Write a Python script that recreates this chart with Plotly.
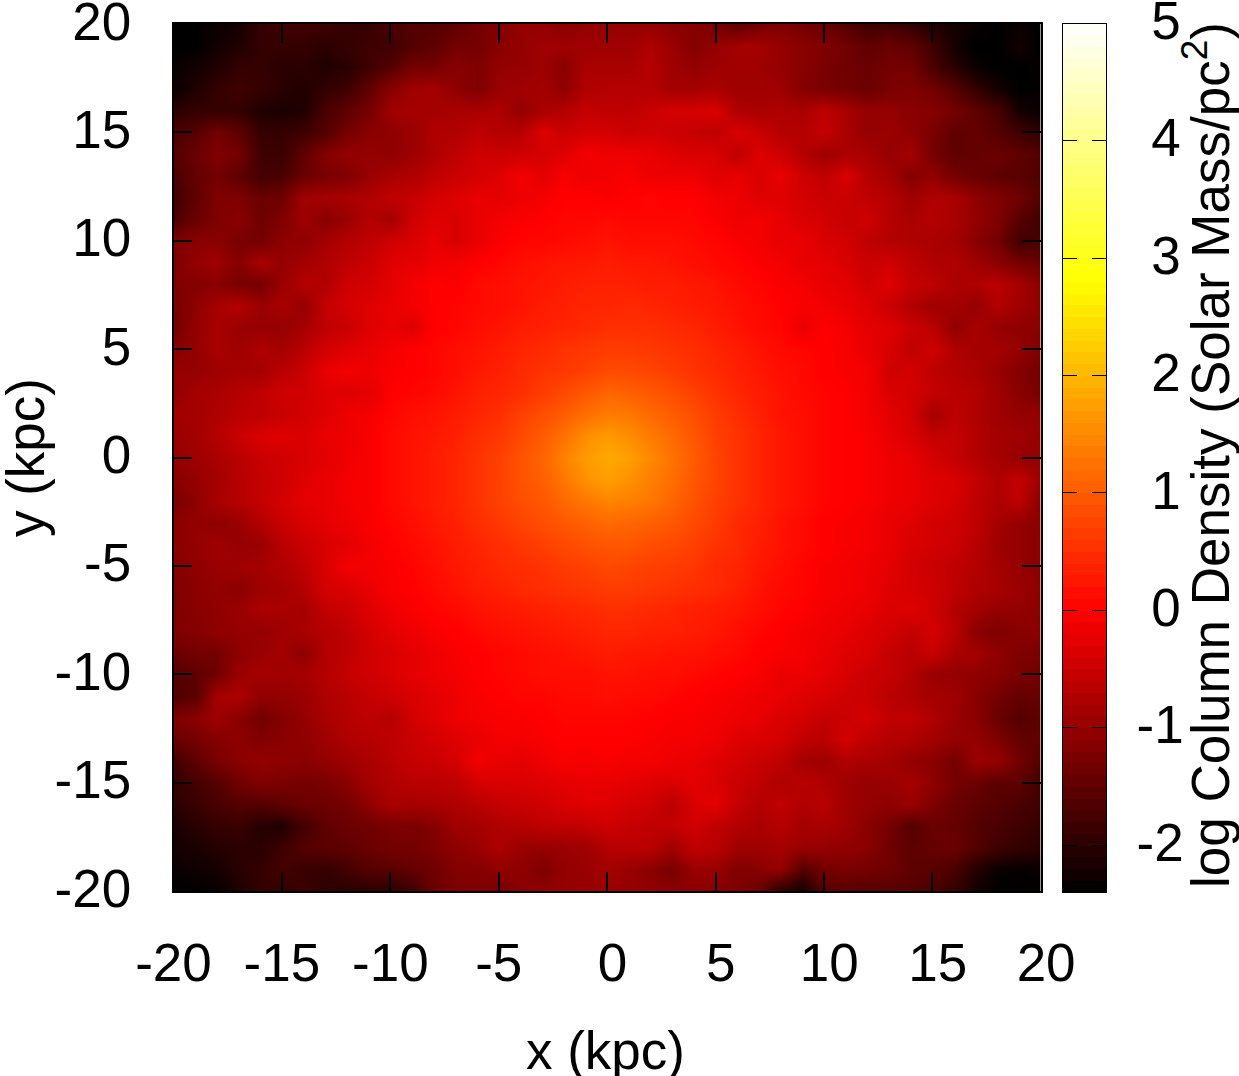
import plotly.graph_objects as go

x_kpc = [-20,-19,-18,-17,-16,-15,-14,-13,-12,-11,-10,-9,-8,-7,-6,-5,-4,-3,-2,-1,0,1,2,3,4,5,6,7,8,9,10,11,12,13,14,15,16,17,18,19,20]
y_kpc = [20,19,18,17,16,15,14,13,12,11,10,9,8,7,6,5,4,3,2,1,0,-1,-2,-3,-4,-5,-6,-7,-8,-9,-10,-11,-12,-13,-14,-15,-16,-17,-18,-19,-20]

log_density = [
 [-2.4,-2.4,-2.3,-2.2,-1.9,-1.8,-1.8,-1.8,-1.9,-1.9, -1.7,-1.6,-1.6,-1.5,-1.3,-1.2,-1.0,-1.0,-1.1,-1.0, -1.0,-1.0,-1.0,-1.1,-1.1,-1.3,-1.5,-1.3,-1.2,-1.3, -1.4,-1.6,-1.8,-1.8,-1.9,-2.1,-2.2,-2.3,-2.4,-2.3,-2.4],
 [-2.4,-2.4,-2.2,-2.1,-1.9,-1.9,-1.9,-2.0,-1.9,-1.8, -1.8,-1.6,-1.5,-1.3,-1.3,-1.1,-1.0,-0.9,-0.9,-0.9, -0.9,-0.9,-0.75,-0.95,-1.15,-1.0,-0.85,-0.85,-1.0,-1.1, -1.2,-1.3,-1.5,-1.4,-1.5,-1.8,-2.2,-2.4,-2.4,-2.2,-2.4],
 [-2.3,-2.2,-2.1,-1.9,-1.9,-2.0,-2.0,-2.1,-2.0,-1.8, -1.6,-1.3,-1.3,-1.1,-1.2,-1.0,-1.0,-0.9,-1.1,-0.8, -0.8,-0.8,-0.7,-0.9,-1.0,-0.9,-0.9,-0.9,-1.0,-1.1, -1.25,-1.35,-1.4,-1.3,-1.3,-1.7,-2.0,-2.3,-2.4,-2.4,-2.35],
 [-2.3,-2.1,-1.9,-1.8,-1.9,-2.0,-2.1,-1.9,-1.8,-1.5, -1.1,-0.9,-0.85,-1.05,-1.2,-0.95,-0.9,-0.85,-1.05,-0.75, -0.7,-0.7,-0.7,-0.85,-0.85,-0.8,-0.9,-0.9,-0.9,-1.15, -1.25,-1.3,-1.4,-1.25,-1.2,-1.3,-1.6,-1.9,-2.2,-2.4,-2.35],
 [-2.0,-1.9,-1.9,-1.9,-2.1,-2.15,-2.1,-1.7,-1.5,-1.3, -0.9,-0.85,-0.85,-0.8,-0.8,-0.75,-1.0,-0.8,-0.7,-0.55, -0.6,-0.6,-0.5,-0.4,-0.4,-0.35,-0.75,-0.8,-0.75,-0.8, -0.6,-0.8,-1.0,-1.0,-1.1,-1.15,-1.3,-1.5,-1.7,-2.2,-2.3],
 [-1.7,-1.6,-1.3,-1.5,-1.9,-1.9,-1.8,-1.6,-1.3,-1.1, -1.05,-0.95,-0.75,-0.75,-0.6,-0.7,-0.7,-0.3,-0.5,-0.4, -0.4,-0.5,-0.45,-0.5,-0.55,-0.6,-0.35,-0.5,-0.7,-0.7, -0.55,-0.8,-1.0,-0.95,-1.05,-1.25,-1.5,-1.45,-1.6,-1.8,-1.95],
 [-1.6,-1.4,-1.2,-1.3,-1.8,-1.85,-1.5,-1.15,-1.0,-1.0, -1.05,-0.9,-0.75,-0.6,-0.45,-0.5,-0.45,-0.4,-0.3,-0.1, -0.15,-0.15,-0.2,-0.3,-0.35,-0.35,-0.6,-0.3,-0.45,-0.7, -0.9,-0.8,-0.8,-1.0,-0.85,-1.3,-1.5,-1.45,-1.4,-1.5,-1.6],
 [-1.7,-1.45,-1.3,-1.5,-1.75,-1.7,-1.4,-1.25,-1.2,-0.95, -0.8,-0.75,-0.6,-0.5,-0.4,-0.3,-0.1,-0.25,-0.05,-0.15, -0.1,-0.05,-0.15,-0.15,-0.15,-0.3,-0.2,-0.35,-0.2,-0.45, -0.6,-0.35,-0.7,-0.85,-1.15,-1.0,-1.3,-1.4,-1.5,-1.55,-1.65],
 [-1.8,-1.5,-1.2,-1.2,-1.4,-1.35,-0.9,-0.85,-0.8,-0.75, -0.6,-0.55,-0.4,-0.3,-0.2,-0.25,-0.15,-0.1,0.0,0.0, -0.05,0.0,0.05,0.0,0.0,-0.1,-0.15,-0.3,-0.3,-0.4, -0.5,-0.5,-0.6,-0.7,-0.9,-0.75,-0.8,-1.05,-1.2,-1.35,-1.6],
 [-1.7,-1.4,-1.2,-1.1,-1.35,-1.2,-0.9,-1.1,-0.95,-0.7, -0.85,-0.45,-0.3,-0.35,-0.2,-0.1,-0.05,0.0,0.05,0.05, 0.1,0.05,0.05,0.05,0.05,-0.05,-0.15,-0.1,-0.2,-0.35, -0.4,-0.55,-0.45,-0.7,-0.8,-0.7,-0.8,-1.0,-1.2,-1.55,-1.8],
 [-1.2,-1.1,-1.1,-1.25,-1.3,-1.05,-1.05,-0.85,-0.7,-0.6, -0.45,-0.35,-0.2,-0.35,-0.2,-0.05,0.05,0.05,0.1,0.15, 0.2,0.15,0.15,0.15,0.1,0.05,-0.05,-0.1,-0.2,-0.2, -0.35,-0.4,-0.6,-0.7,-0.75,-0.8,-0.85,-1.1,-1.3,-1.8,-1.7],
 [-1.2,-1.0,-0.9,-1.15,-0.8,-1.0,-0.85,-0.75,-0.6,-0.5, -0.3,-0.25,-0.15,-0.1,0.0,0.05,0.15,0.2,0.25,0.25, 0.3,0.25,0.25,0.2,0.15,0.1,0.05,-0.05,-0.1,-0.2, -0.25,-0.35,-0.5,-0.45,-0.6,-0.75,-0.75,-0.9,-1.1,-1.3,-1.4],
 [-1.2,-1.15,-1.1,-1.25,-1.3,-0.95,-0.7,-0.75,-0.45,-0.4, -0.25,-0.1,0.0,-0.05,0.1,0.15,0.2,0.25,0.3,0.35, 0.35,0.35,0.3,0.3,0.25,0.2,0.1,0.05,-0.05,-0.1, -0.2,-0.25,-0.45,-0.3,-0.55,-0.6,-0.8,-0.75,-0.65,-0.85,-1.1],
 [-1.3,-1.05,-0.85,-0.7,-0.95,-0.8,-1.0,-0.55,-0.4,-0.3, -0.2,-0.1,0.0,0.05,0.1,0.15,0.2,0.3,0.35,0.4, 0.4,0.45,0.4,0.35,0.3,0.25,0.15,0.1,0.0,-0.05, -0.1,-0.2,-0.3,-0.5,-0.7,-0.9,-0.85,-1.0,-0.7,-0.9,-1.05],
 [-1.35,-1.0,-0.8,-0.95,-1.0,-1.0,-0.85,-0.6,-0.5,-0.3, -0.2,-0.3,0.0,0.05,0.15,0.2,0.3,0.35,0.4,0.45, 0.5,0.5,0.5,0.45,0.4,0.3,0.2,0.1,0.05,-0.2, 0.0,-0.1,-0.25,-0.3,-0.5,-0.65,-1.05,-0.8,-1.0,-1.05,-1.1],
 [-1.1,-1.0,-0.8,-0.9,-0.75,-0.85,-0.65,-0.4,-0.3,-0.2, -0.1,0.0,0.05,0.15,0.2,0.3,0.4,0.45,0.55,0.6, 0.65,0.65,0.6,0.55,0.5,0.4,0.3,0.2,0.1,0.05, 0.0,-0.05,-0.2,-0.35,-0.6,-0.45,-0.75,-0.85,-0.85,-1.0,-1.2],
 [-1.0,-1.0,-0.9,-0.85,-0.85,-0.65,-0.5,-0.2,-0.1,-0.15, -0.05,0.0,0.05,0.15,0.25,0.35,0.45,0.55,0.6,0.7, 0.8,0.8,0.75,0.65,0.55,0.45,0.35,0.25,0.15,0.1, 0.0,-0.05,-0.1,-0.45,-0.4,-0.6,-0.7,-0.8,-0.95,-1.15,-1.3],
 [-1.0,-0.85,-0.8,-0.7,-0.6,-0.45,-0.45,-0.3,-0.3,-0.25, 0.0,0.05,0.1,0.2,0.35,0.4,0.5,0.65,0.8,0.95, 1.1,1.05,0.95,0.85,0.7,0.55,0.4,0.3,0.2,0.1, 0.05,0.0,-0.1,-0.35,-0.4,-0.55,-0.65,-0.7,-0.9,-1.1,-1.3],
 [-0.9,-0.85,-0.75,-0.65,-0.6,-0.5,-0.4,-0.3,-0.15,-0.1, 0.05,0.15,0.2,0.3,0.4,0.5,0.7,0.85,1.0,1.2, 1.35,1.3,1.15,1.0,0.85,0.65,0.5,0.35,0.2,0.15, 0.05,0.0,-0.1,-0.25,-0.4,-0.85,-0.6,-0.75,-0.9,-1.0,-1.0],
 [-0.95,-0.85,-0.7,-0.5,-0.35,-0.3,-0.35,-0.2,-0.15,-0.05, 0.1,0.2,0.25,0.35,0.5,0.6,0.8,1.0,1.25,1.55, 1.7,1.55,1.35,1.15,0.95,0.7,0.55,0.4,0.25,0.15, 0.05,0.0,-0.05,-0.2,-0.35,-0.55,-0.55,-0.7,-0.85,-0.9,-1.0],
 [-1.0,-0.9,-0.8,-0.65,-0.5,-0.45,-0.35,-0.25,-0.15,-0.05, 0.1,0.2,0.3,0.4,0.55,0.7,0.9,1.1,1.4,1.7, 1.85,1.75,1.5,1.25,1.0,0.75,0.55,0.4,0.25,0.15, 0.05,0.0,-0.05,-0.15,-0.2,-0.4,-0.55,-0.7,-0.85,-1.0,-1.0],
 [-1.1,-1.0,-0.85,-0.7,-0.55,-0.45,-0.3,-0.2,-0.1,-0.05, 0.1,0.2,0.3,0.4,0.55,0.7,0.9,1.05,1.3,1.6, 1.75,1.6,1.4,1.2,0.95,0.75,0.55,0.4,0.25,0.15, 0.05,0.0,-0.05,-0.15,-0.2,-0.3,-0.35,-0.55,-0.75,-0.55,-0.95],
 [-1.25,-1.05,-0.8,-0.7,-0.55,-0.4,-0.25,-0.2,-0.1,-0.05, 0.1,0.2,0.3,0.4,0.55,0.7,0.85,0.95,1.15,1.3, 1.45,1.4,1.3,1.1,0.9,0.7,0.55,0.4,0.25,0.15, 0.05,0.0,-0.05,-0.15,-0.2,-0.3,-0.4,-0.6,-0.75,-0.6,-1.1],
 [-1.1,-1.0,-1.05,-0.95,-0.7,-0.5,-0.35,-0.25,-0.15,-0.05, 0.05,0.15,0.25,0.35,0.5,0.6,0.75,0.85,0.95,1.05, 1.15,1.1,1.05,0.95,0.8,0.65,0.45,0.35,0.2,0.1, 0.0,-0.05,-0.1,-0.2,-0.3,-0.4,-0.45,-0.6,-0.85,-1.0,-1.1],
 [-1.1,-1.0,-0.9,-1.0,-0.95,-0.65,-0.5,-0.35,-0.25,-0.1, 0.0,0.1,0.2,0.3,0.4,0.5,0.6,0.7,0.8,0.9, 0.95,0.95,0.85,0.8,0.7,0.55,0.45,0.3,0.2,0.1, 0.0,-0.05,-0.1,-0.2,-0.35,-0.4,-0.5,-0.65,-0.9,-1.0,-1.1],
 [-1.15,-1.05,-0.95,-0.9,-0.85,-0.75,-0.6,-0.35,-0.1,-0.1, -0.05,0.05,0.15,0.25,0.35,0.45,0.5,0.55,0.65,0.7, 0.8,0.75,0.7,0.65,0.6,0.45,0.4,0.25,0.15,0.05, -0.05,-0.1,-0.15,-0.25,-0.4,-0.5,-0.6,-0.7,-0.85,-1.0,-1.1],
 [-1.2,-1.1,-1.0,-1.1,-0.9,-0.85,-0.7,-0.4,-0.35,-0.2, -0.05,0.0,0.1,0.2,0.3,0.35,0.45,0.5,0.55,0.6, 0.65,0.65,0.6,0.55,0.5,0.45,0.35,0.2,0.1,0.05, -0.05,-0.1,-0.15,-0.3,-0.4,-0.45,-0.6,-0.75,-0.8,-0.95,-1.05],
 [-1.2,-1.1,-1.05,-0.95,-0.8,-0.8,-0.85,-0.55,-0.5,-0.3, -0.15,-0.05,0.05,0.1,0.2,0.25,0.3,0.35,0.4,0.45, 0.5,0.5,0.45,0.4,0.35,0.3,0.25,0.15,0.05,0.0, -0.1,-0.15,-0.2,-0.35,-0.3,-0.45,-0.7,-0.85,-1.0,-1.0,-1.1],
 [-1.2,-1.15,-1.05,-1.0,-1.0,-0.9,-0.8,-0.7,-0.6,-0.4, -0.25,-0.15,-0.05,0.0,0.1,0.15,0.2,0.25,0.3,0.35, 0.4,0.4,0.35,0.35,0.3,0.25,0.15,0.05,0.0,-0.1, -0.15,-0.2,-0.35,-0.4,-0.55,-0.4,-0.65,-1.1,-1.2,-1.1,-1.1],
 [-1.4,-1.3,-1.3,-1.05,-0.95,-0.85,-1.05,-0.7,-0.6,-0.45, -0.35,-0.25,-0.15,-0.05,0.0,0.05,0.1,0.15,0.2,0.25, 0.3,0.25,0.25,0.2,0.2,0.15,0.1,0.0,-0.05,-0.1, -0.2,-0.3,-0.35,-0.55,-0.65,-0.5,-0.8,-0.85,-1.05,-1.2,-1.25],
 [-1.6,-1.5,-1.35,-0.95,-0.85,-0.9,-0.85,-0.7,-0.55,-0.45, -0.35,-0.25,-0.15,-0.1,0.0,0.05,0.1,0.15,0.15,0.15, 0.2,0.2,0.15,0.15,0.1,0.05,0.0,-0.05,-0.2,-0.15, -0.25,-0.35,-0.5,-0.55,-0.7,-0.95,-1.0,-1.05,-1.1,-1.25,-1.35],
 [-1.65,-1.55,-0.85,-0.75,-1.05,-1.0,-0.95,-0.75,-0.65,-0.55, -0.45,-0.35,-0.25,-0.15,-0.05,0.0,0.05,0.05,0.1,0.1, 0.15,0.1,0.1,0.05,0.0,-0.05,-0.1,-0.15,-0.2,-0.3, -0.35,-0.45,-0.5,-0.65,-0.75,-0.85,-0.9,-1.1,-1.3,-1.45,-1.4],
 [-1.2,-1.1,-0.9,-1.1,-1.3,-1.15,-1.0,-0.8,-0.7,-0.6, -0.7,-0.4,-0.3,-0.15,-0.1,-0.05,-0.05,0.0,0.05,0.05, 0.05,0.05,0.0,-0.05,-0.05,-0.1,-0.15,-0.2,-0.35,-0.4, -0.55,-0.5,-0.4,-0.6,-0.6,-0.75,-0.95,-1.1,-1.4,-1.6,-1.5],
 [-1.4,-1.3,-1.15,-1.05,-1.2,-1.1,-1.05,-0.9,-0.75,-0.7, -0.6,-0.5,-0.4,-0.3,-0.2,-0.1,-0.1,-0.05,0.0,0.0, 0.0,0.0,-0.05,-0.1,-0.1,-0.15,-0.3,-0.35,-0.4,-0.6, -0.65,-0.4,-0.6,-0.7,-0.75,-0.85,-1.0,-1.0,-1.2,-1.45,-1.5],
 [-1.8,-1.5,-1.25,-1.1,-1.0,-1.05,-1.1,-1.0,-0.9,-0.8, -0.65,-0.55,-0.5,-0.4,-0.1,-0.2,-0.25,-0.15,-0.05,-0.1, -0.05,-0.1,-0.1,-0.15,-0.2,-0.3,-0.4,-0.5,-0.6,-0.85, -0.9,-0.75,-0.8,-0.85,-1.0,-1.1,-1.3,-0.95,-1.0,-1.35,-1.6],
 [-1.95,-1.75,-1.6,-1.35,-1.2,-1.25,-1.3,-1.25,-1.1,-0.85, -0.75,-0.65,-0.65,-0.6,-0.4,-0.35,-0.35,-0.3,-0.25,-0.2, -0.2,-0.25,-0.3,-0.35,-0.25,-0.35,-0.5,-0.6,-0.75,-0.65, -0.75,-0.9,-1.0,-0.95,-0.85,-1.05,-1.3,-1.4,-1.55,-1.5,-1.8],
 [-2.0,-1.85,-1.7,-1.6,-1.6,-1.5,-1.4,-1.35,-1.3,-1.05, -0.8,-0.85,-0.8,-0.75,-0.65,-0.55,-0.5,-0.45,-0.35,-0.3, -0.3,-0.4,-0.45,-0.65,-0.35,-0.25,-0.55,-0.7,-0.6,-0.75, -0.65,-0.9,-1.0,-1.05,-0.95,-1.2,-1.4,-1.5,-1.6,-1.7,-1.8],
 [-2.15,-2.0,-1.9,-1.85,-2.05,-2.1,-1.75,-1.5,-1.4,-1.35, -1.25,-1.25,-1.15,-0.9,-0.85,-0.75,-0.7,-0.6,-0.6,-0.55, -0.45,-0.55,-0.6,-0.55,-0.45,-0.6,-0.7,-0.8,-0.7,-0.85, -0.8,-0.9,-1.1,-1.3,-1.6,-1.4,-1.45,-1.6,-1.7,-1.8,-1.9],
 [-2.2,-2.15,-2.05,-2.0,-2.0,-1.8,-1.6,-1.55,-1.5,-1.4, -1.3,-1.3,-1.2,-1.05,-0.95,-0.75,-0.95,-1.0,-0.95,-0.9, -0.7,-0.65,-0.65,-0.9,-0.6,-0.65,-0.9,-0.9,-0.85,-0.95, -1.0,-1.05,-1.1,-1.35,-1.5,-1.45,-1.4,-1.6,-1.8,-1.9,-2.0],
 [-2.3,-2.25,-2.2,-2.0,-1.9,-1.75,-1.85,-1.9,-1.75,-1.6, -1.55,-1.45,-1.35,-1.15,-1.15,-1.05,-1.05,-1.2,-1.0,-0.95, -0.85,-0.95,-1.1,-1.25,-0.95,-0.95,-1.2,-1.1,-1.0,-1.6, -1.3,-1.25,-1.3,-1.35,-1.5,-1.55,-1.7,-2.05,-2.3,-2.35,-2.3],
 [-2.4,-2.4,-2.35,-2.1,-1.9,-1.95,-1.85,-1.95,-2.0,-2.0, -2.0,-1.8,-1.4,-1.25,-1.2,-1.3,-1.1,-1.05,-1.0,-1.0, -0.95,-1.0,-1.05,-1.1,-1.1,-1.15,-1.2,-1.4,-2.0,-2.2, -1.6,-1.55,-1.6,-1.6,-1.6,-1.7,-1.9,-2.2,-2.4,-2.4,-2.4],
]

x_ticks = [-20,-15,-10,-5,0,5,10,15,20]
x_tick_text = ["-20","-15","-10","-5","\u20090","\u20095","\u200910","\u200915","\u200920"]
y_ticks = [-20,-15,-10,-5,0,5,10,15,20]
y_tick_text = ["-20","-15","-10","-5","0","5","10","15","20"]
cbar_ticks = [-2,-1,0,1,2,3,4,5]
cbar_tick_text = ["-2","-1","\u00a00","\u00a01","\u00a02","\u00a03","\u00a04","\u00a05"]
cbar_levels = [-2.35,-2.25,-2.15,-2.05,-1.95,-1.85,-1.75,-1.65,-1.55,-1.45,-1.35,-1.25,-1.15,-1.05,
 -0.95,-0.85,-0.75,-0.65,-0.55,-0.45,-0.35,-0.25,-0.15,-0.05,0.05,0.15,0.25,0.35,0.45,0.55,0.65,0.75,
 0.85,0.95,1.05,1.15,1.25,1.35,1.45,1.55,1.65,1.75,1.85,1.95,2.05,2.15,2.25,2.35,2.45,2.55,2.65,2.75,
 2.85,2.95,3.05,3.15,3.25,3.35,3.45,3.55,3.65,3.75,3.85,3.95,4.05,4.15,4.25,4.35,4.45,4.55,4.65,4.75,4.85,4.95]

colorscale = [[0.0,"#000000"],[0.3243,"#ff0000"],[0.7027,"#ffff00"],[1.0,"#ffffff"]]
zmin, zmax = -2.4, 5

W, H = 1239, 1076
FONT = "Liberation Sans"
FS = 53
def px(v): return v / W
def py(v): return 1 - v / H
title_font = dict(family=FONT, size=FS, color="black")

fig = go.Figure()
fig.add_trace(go.Heatmap(x=x_kpc, y=y_kpc, z=log_density, colorscale=colorscale, zmin=zmin, zmax=zmax,
                         zsmooth="best", showscale=False, hoverinfo="skip"))
fig.add_trace(go.Heatmap(x=[0], y=cbar_levels, z=[[v] for v in cbar_levels], colorscale=colorscale,
                         zmin=zmin, zmax=zmax, showscale=False, xaxis="x2", yaxis="y2", hoverinfo="skip"))

common = dict(showline=True, linecolor="black", linewidth=1.5, mirror="ticks", ticks="inside", ticklen=19,
              tickwidth=1.5, tickcolor="black", showgrid=False, zeroline=False, automargin=False,
              ticklabeloverflow="allow", tickfont=dict(family=FONT, size=FS, color="black"))

fig.update_layout(
    width=W, height=H, margin=dict(l=0, r=0, t=0, b=0), paper_bgcolor="white", plot_bgcolor="white",
    showlegend=False,
    xaxis=dict(domain=[px(173.5), px(1040.8)], range=[-20, 20], tickmode="array", tickvals=x_ticks,
               ticktext=x_tick_text, ticklabelstandoff=25, **common),
    yaxis=dict(domain=[py(891), py(24)], range=[-20, 20], tickmode="array", tickvals=y_ticks,
               ticktext=y_tick_text, ticklabelstandoff=30, ticklabelshift=-3, **common),
    xaxis2=dict(domain=[px(1062.5), px(1106)], range=[-0.5, 0.5], anchor="y2", showticklabels=False, ticks="",
                showline=True, linecolor="black", linewidth=1, mirror=True, showgrid=False, zeroline=False,
                automargin=False),
    yaxis2=dict(domain=[py(892), py(23.5)], range=[zmin, zmax], anchor="x2", side="right", tickmode="array",
                tickvals=cbar_ticks, ticktext=cbar_tick_text, showline=True, linecolor="black", linewidth=1,
                mirror="ticks", ticks="inside", ticklen=14, tickwidth=1, tickcolor="black", showgrid=False,
                zeroline=False, ticklabelstandoff=19, ticklabelshift=-3, ticklabeloverflow="allow", automargin=False,
                tickfont=dict(family=FONT, size=FS, color="black")),
    annotations=[
        dict(text="log Column Density (Solar Mass/pc<sup>2</sup>)", xref="paper", yref="paper",
             x=px(1206), y=py(455), textangle=-90, showarrow=False, xanchor="center", yanchor="middle", font=title_font),
        dict(text="x (kpc)", xref="paper", yref="paper", x=px(605), y=py(1050), showarrow=False,
             xanchor="center", yanchor="middle", font=title_font),
        dict(text="y (kpc)", xref="paper", yref="paper", x=px(25), y=py(458), textangle=-90, showarrow=False,
             xanchor="center", yanchor="middle", font=title_font),
    ],
)
fig.write_html("out.html", config={"displayModeBar": False}, post_script="document.body.style.margin='0';")
